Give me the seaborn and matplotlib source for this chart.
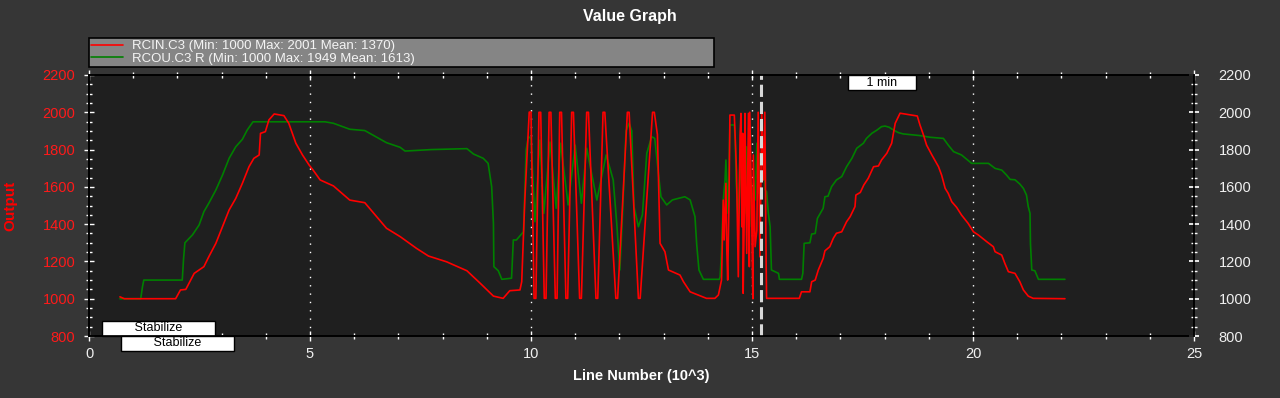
import numpy as np
import pandas as pd
import matplotlib
matplotlib.use("Agg")
import matplotlib.pyplot as plt
from matplotlib.ticker import MultipleLocator
import seaborn as sns

# ---------------- data (x in thousands of lines) ----------------
rcin_x = [0.70, 0.80, 1.96, 2.07, 2.19, 2.30, 2.38, 2.60, 2.71, 2.87, 3.02, 3.17, 3.32, 3.47, 3.62, 3.73,
          3.85, 3.88, 3.99, 4.07, 4.19, 4.41, 4.52, 4.68, 4.83, 4.98, 5.07, 5.23, 5.53, 5.90, 6.24, 6.51,
          6.73, 7.04, 7.41, 7.68, 8.09, 8.55, 8.85, 9.15, 9.37, 9.52, 9.75, 9.79, 9.86, 9.94,
          9.96, 10.00, 10.07, 10.11, 10.18, 10.22, 10.30, 10.34, 10.41, 10.45, 10.55, 10.59,
          10.65, 10.69, 10.79, 10.83, 10.92, 10.96, 11.10, 11.14, 11.26, 11.30, 11.47, 11.51,
          11.63, 11.67, 11.92, 11.96, 12.18, 12.22, 12.43, 12.47, 12.75, 12.79,
          12.86, 12.92, 13.03, 13.11, 13.37, 13.45, 13.60, 13.97, 14.16,
          14.24, 14.31, 14.35, 14.37, 14.41, 14.43, 14.45, 14.48, 14.50, 14.60, 14.62, 14.65, 14.69,
          14.73, 14.75, 14.77, 14.79, 14.80, 14.83, 14.84, 14.88, 14.92, 14.94, 14.95, 14.99, 15.02,
          15.03, 15.07, 15.11, 15.14, 15.18, 15.22, 15.26, 15.29, 15.32, 15.33,
          16.07, 16.12, 16.31, 16.35, 16.43, 16.50, 16.61, 16.65, 16.76, 16.84, 16.91, 17.03, 17.14,
          17.22, 17.33, 17.35, 17.45, 17.53, 17.63, 17.75, 17.86, 17.93, 18.05, 18.16, 18.24, 18.35,
          18.61, 18.74, 18.80, 18.88, 18.95, 19.07, 19.22, 19.29, 19.37, 19.44, 19.52, 19.63, 19.74,
          19.89, 20.01, 20.12, 20.31, 20.46, 20.50, 20.65, 20.72, 20.80, 20.95, 21.06, 21.14, 21.25,
          21.36, 22.08]
rcin_y = [1010, 1000, 1000, 1047, 1050, 1100, 1136, 1172, 1225, 1297, 1386, 1476, 1538, 1619, 1708, 1753,
          1771, 1887, 1896, 1959, 1991, 1982, 1941, 1834, 1771, 1717, 1690, 1637, 1605, 1529, 1515, 1440,
          1378, 1333, 1270, 1229, 1198, 1150, 1083, 1014, 1002, 1043, 1047, 1091, 1529, 1905,
          2001, 2001, 1002, 1002, 2000, 2000, 1002, 1002, 2000, 2000, 1002, 1002,
          2000, 2000, 1002, 1002, 2000, 2000, 1002, 1002, 2000, 2000, 1002, 1002,
          2000, 2000, 1002, 1002, 2000, 2000, 1002, 1002, 2000, 2000,
          1880, 1297, 1252, 1154, 1127, 1091, 1037, 1002, 1002,
          1020, 1100, 1529, 1315, 1619, 1261, 1100, 1529, 1985, 1985, 1869, 1681, 1118,
          1878, 1994, 1386, 1887, 1029, 1529, 1994, 1243, 1994, 1172, 2000, 1476, 1000,
          1771, 1279, 1368, 2000, 1225, 2000, 1637, 2000, 1190, 1002,
          1002, 1037, 1037, 1091, 1100, 1154, 1216, 1257, 1279, 1324, 1351, 1359, 1413,
          1440, 1494, 1556, 1570, 1610, 1646, 1708, 1712, 1744, 1780, 1834, 1941, 1995,
          1985, 1980, 1932, 1878, 1824, 1771, 1708, 1663, 1592, 1565, 1520, 1490, 1449,
          1404, 1359, 1342, 1306, 1279, 1252, 1234, 1190, 1145, 1136, 1091, 1047, 1014,
          1002, 1000]

rcou_x = [0.70, 1.17, 1.21, 1.24, 2.11, 2.14, 2.17, 2.34, 2.49, 2.60, 2.71, 2.87, 3.02, 3.17, 3.32, 3.47,
          3.58, 3.71, 5.34, 5.53, 5.90, 6.24, 6.51, 6.73, 7.04, 7.15, 7.75, 8.55, 8.70, 8.92, 9.03, 9.11,
          9.15, 9.16, 9.26, 9.34, 9.56, 9.60, 9.67, 9.83, 9.89, 9.94, 10.00,
          10.09, 10.20, 10.29, 10.43, 10.57, 10.67, 10.84, 11.00, 11.14, 11.26, 11.49, 11.70, 11.86,
          11.94, 12.01, 12.07, 12.15, 12.22, 12.28, 12.33, 12.43, 12.52, 12.62, 12.73, 12.80, 12.87,
          12.94, 13.07, 13.20, 13.48, 13.60, 13.71, 13.75, 13.80, 13.90, 14.26,
          14.28, 14.31, 14.35, 14.39, 14.41, 14.44, 14.46, 14.50, 14.60, 14.62, 14.64, 14.69, 14.73,
          14.77, 14.80, 14.84, 14.88, 14.92, 14.95, 14.99, 15.03, 15.07, 15.11, 15.14, 15.18, 15.22,
          15.26, 15.30, 15.33, 15.37, 15.41, 15.44, 15.60, 15.62, 16.12, 16.15, 16.18, 16.31, 16.35,
          16.43, 16.48, 16.55, 16.61, 16.65, 16.72, 16.80, 16.91, 17.03, 17.14, 17.26, 17.37, 17.52,
          17.59, 17.71, 17.83, 17.93, 18.01, 18.10, 18.20, 18.31, 18.42, 18.80, 19.03, 19.33, 19.44,
          19.56, 19.74, 19.97, 20.35, 20.50, 20.65, 20.76, 20.84, 20.95, 21.06, 21.14, 21.21, 21.25,
          21.29, 21.30, 21.33, 21.40, 21.48, 22.08]
rcou_y = [1000, 1000, 1064, 1100, 1100, 1216, 1300, 1342, 1395, 1467, 1512, 1583, 1663, 1753, 1815, 1855,
          1905, 1949, 1949, 1941, 1909, 1902, 1866, 1837, 1812, 1792, 1800, 1805, 1776, 1753, 1726, 1601,
          1404, 1172, 1150, 1104, 1110, 1315, 1315, 1359, 1798, 1869, 1860,
          1413, 1851, 1458, 1840, 1485, 1834, 1503, 1824, 1512, 1807, 1529, 1771, 1637,
          1404, 1154, 1450, 1900, 1941, 1900, 1494, 1386, 1450, 1780, 1869, 1860, 1700,
          1547, 1503, 1530, 1547, 1530, 1440, 1288, 1154, 1104, 1104,
          1118, 1261, 1529, 1637, 1744, 1565, 1458, 1932, 1932, 1851, 1637, 1404, 1798,
          1529, 1834, 1458, 1815, 1494, 1798, 1386, 1619, 1529, 1834, 1565, 1780, 1762,
          1780, 1583, 1574, 1458, 1386, 1154, 1136, 1104, 1104, 1136, 1297, 1300, 1347,
          1350, 1431, 1460, 1485, 1547, 1550, 1601, 1637, 1655, 1708, 1753, 1807, 1834,
          1860, 1887, 1905, 1923, 1926, 1920, 1905, 1891, 1884, 1875, 1866, 1860, 1824,
          1789, 1771, 1726, 1726, 1699, 1690, 1663, 1640, 1638, 1615, 1592, 1556, 1494,
          1458, 1297, 1154, 1150, 1104, 1104]

series_labels = ["RCIN.C3 (Min: 1000 Max: 2001 Mean: 1370)",
                 "RCOU.C3 R (Min: 1000 Max: 1949 Mean: 1613)"]
mode_labels = ["Stabilize", "Stabilize"]
mode_x = [1.57, 2.0]
marker_label = "1 min"
marker_x = 17.94
cursor_x = 15.2
grid_x = [5, 10, 15, 20]

# ---------------- style ----------------
sns.set_theme(style="dark")
plt.rcParams["font.family"] = ["Liberation Sans", "DejaVu Sans"]

FIG_BG = "#363636"
AX_BG = "#1f1f1f"
W, H = 1280, 398
fig = plt.figure(figsize=(W / 100, H / 100), dpi=100, facecolor=FIG_BG)
left, right, top, bottom = 89, 1194, 75, 336
ax = fig.add_axes([left / W, 1 - bottom / H, (right - left) / W, (bottom - top) / H])
ax.set_facecolor(AX_BG)

df_in = pd.DataFrame({"x": rcin_x, "y": rcin_y})
df_out = pd.DataFrame({"x": rcou_x, "y": rcou_y})
sns.lineplot(data=df_in, x="x", y="y", ax=ax, color="#ff0000", linewidth=1.2,
             sort=False, estimator=None, label=series_labels[0], zorder=4)
sns.lineplot(data=df_out, x="x", y="y", ax=ax, color="#008000", linewidth=1.2,
             sort=False, estimator=None, label=series_labels[1], zorder=3)
handles, labels = ax.get_legend_handles_labels()
ax.get_legend().remove()

ax.set_xlim(0, 25)
ax.set_ylim(800, 2200)
ax.xaxis.set_major_locator(MultipleLocator(5))
ax.xaxis.set_minor_locator(MultipleLocator(1))
ax.yaxis.set_major_locator(MultipleLocator(200))
ax.yaxis.set_minor_locator(MultipleLocator(50))
ax.grid(False)

for gx in grid_x:
    ax.axvline(gx, color="white", linewidth=1.0, linestyle=(0, (1, 5)), zorder=2)
ax.axvline(cursor_x, color="#d8d8d8", linewidth=2.2, linestyle=(0, (4, 1.6)), zorder=6)

for s in ax.spines.values():
    s.set_color("black")
    s.set_linewidth(1.2)

ax.tick_params(axis="both", which="both", direction="inout", colors="white",
               top=True, bottom=True, left=True, right=False)
ax.tick_params(axis="both", which="major", length=7.5, width=1)
ax.tick_params(axis="both", which="minor", length=4.5, width=1)
ax.tick_params(axis="x", labelsize=10.5, labelcolor="#f0f0f0", pad=4)
ax.tick_params(axis="y", labelsize=10.5, labelcolor="#ff1a1a", pad=6)
ax.set_xlabel("Line Number (10^3)", color="white", fontsize=10.5, fontweight="bold", labelpad=6)
ax.set_ylabel("Output", color="#ff0000", fontsize=11, fontweight="bold")
ax.yaxis.set_label_coords((17 - left) / (right - left), 0.5)

ax2 = ax.twinx()
ax2.set_ylim(800, 2200)
ax2.yaxis.set_major_locator(MultipleLocator(200))
ax2.yaxis.set_minor_locator(MultipleLocator(50))
ax2.tick_params(axis="y", which="both", direction="inout", colors="white", labelsize=10.5,
                labelcolor="#f0f0f0", pad=14)
ax2.tick_params(axis="y", which="major", length=7.5)
ax2.tick_params(axis="y", which="minor", length=4.5)
ax2.grid(False)
for s in ax2.spines.values():
    s.set_color("black")
    s.set_linewidth(1.2)

# mode annotations
pad_txt = " " * 9
ax.text(mode_x[0], 0.03, pad_txt + mode_labels[0] + pad_txt, transform=ax.get_xaxis_transform(),
        ha="center", va="center", fontsize=9, color="black", zorder=8,
        bbox=dict(boxstyle="square,pad=0.12", facecolor="white", edgecolor="black", linewidth=1))
ax.text(mode_x[1], -0.028, pad_txt + mode_labels[1] + pad_txt, transform=ax.get_xaxis_transform(),
        ha="center", va="center", fontsize=9, color="black", zorder=8, clip_on=False,
        bbox=dict(boxstyle="square,pad=0.12", facecolor="white", edgecolor="black", linewidth=1))
ax.text(marker_x, 0.97, "     " + marker_label + "     ", transform=ax.get_xaxis_transform(),
        ha="center", va="center", fontsize=9, color="black", zorder=8,
        bbox=dict(boxstyle="square,pad=0.12", facecolor="white", edgecolor="black", linewidth=1))

# legend
leg = fig.legend(handles, labels, loc="lower left",
                 bbox_to_anchor=(left / W, 1 - 67 / H, (714 - left) / W, 30 / H), mode="expand",
                 fontsize=9.5, frameon=True, fancybox=False, framealpha=1, facecolor="#858585",
                 edgecolor="black", labelcolor="#f4f4f4", handlelength=2.4, handletextpad=0.7,
                 labelspacing=0.05, borderpad=0.15, borderaxespad=0)
leg.get_frame().set_linewidth(1.2)

fig.text(630 / W, 1 - 17 / H, "Value Graph", ha="center", va="center", color="white",
         fontsize=11.5, fontweight="bold")

fig.savefig("out.png", dpi=100, facecolor=FIG_BG)
